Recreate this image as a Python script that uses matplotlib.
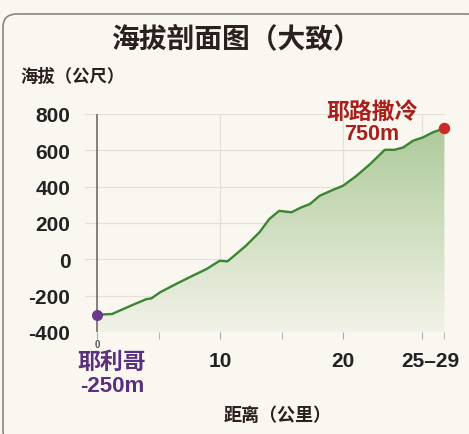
import matplotlib
matplotlib.use("Agg")
import matplotlib.pyplot as plt
import matplotlib.transforms as mtrans
import numpy as np
from matplotlib.patches import FancyBboxPatch

plt.rcParams['font.family'] = ['Noto Sans CJK SC', 'DejaVu Sans']

# Data (distance in km on chart scale, elevation in m)
distance = [0.0, 1.2, 2.1, 3.05, 4.0, 4.4, 5.1, 6.4, 7.5, 8.9, 9.96, 10.6, 11.3, 12.1,
            13.2, 14.0, 14.8, 15.8, 16.6, 17.3, 18.1, 19.2, 20.0, 21.1, 22.2, 23.4,
            24.2, 24.9, 25.7, 26.5, 27.3, 28.25]
elevation = [-305, -301, -274, -246, -219, -215, -182, -136, -99, -53, -8, -11, 29, 75,
             149, 222, 267, 259, 286, 304, 350, 383, 405, 460, 524, 603,
             603, 616, 653, 671, 699, 721]
yticks = [800, 600, 400, 200, 0, -200, -400]
xtick_pos = [10, 20, 26.4]
xtick_labels = ['10', '20', '25–29']
minor_ticks = [5, 15, 28.25]

bg = '#faf7f1'
fig = plt.figure(figsize=(4.69, 4.35), dpi=100, facecolor=bg)
W, H = 469, 435
# rounded border
border = FancyBboxPatch((3/W, -10/H), (W+10)/W, (H-5)/H,
                        boxstyle="round,pad=0,rounding_size=0.03",
                        transform=fig.transFigure, facecolor=bg,
                        edgecolor='#8a8580', linewidth=1.2, zorder=-5)
fig.patches.append(border)

ax = fig.add_axes([85/W, 1-333/H, (445-85)/W, (333-115)/H])
ax.set_zorder(2)
ax.set_facecolor('none')

# grid
for yv in yticks:
    ax.axhline(yv, color='#e4e0d8', lw=0.9, zorder=1)
for xv in [10, 20, 26.4]:
    ax.axvline(xv, color='#e4e0d8', lw=0.9, zorder=1)

# gradient fill
x = np.array(distance)
y = np.array(elevation)
poly = ax.fill_between(x, y, -400, facecolor='none', edgecolor='none', zorder=2)
grad = np.linspace(0, 1, 256).reshape(-1, 1)
top = np.array([0.68, 0.79, 0.60])
bot = np.array([0.95, 0.95, 0.91])
img = top * (1 - grad[..., None]) + bot * grad[..., None]
img = np.repeat(img, 2, axis=1)
im = ax.imshow(img, extent=[0, 28.25, -400, 730], aspect='auto', origin='upper', zorder=2)
path = poly.get_paths()[0]
im.set_clip_path(path, transform=ax.transData)
ax.set_xlim(-1.0, 28.3)
ax.set_ylim(-400, 800)

ax.plot(x, y, color='#3a8532', lw=1.7, zorder=4)

# vertical axis line at x=0
ax.plot([0, 0], [-400, 800], color='#7a7570', lw=1.3, zorder=3)
ax.scatter([distance[0]], [elevation[0]], s=48, color='#6a3a8a', zorder=5)
ax.scatter([distance[-1]], [elevation[-1]], s=52, color='#cc2a22', zorder=5, clip_on=False)

for s in ax.spines.values():
    s.set_visible(False)
ax.set_yticks(yticks)
ax.set_yticklabels([str(v) for v in yticks], fontfamily='Liberation Sans',
                   fontweight='bold', fontsize=15, color='#222222')
ax.tick_params(axis='y', length=0, pad=10.5)
ax.set_xticks([0] + xtick_pos)
ax.set_xticklabels(['0'] + xtick_labels, fontfamily='Liberation Sans',
                   fontweight='bold', fontsize=15, color='#222222')
ax.set_xticks(minor_ticks, minor=True)
ax.tick_params(axis='x', which='both', length=5, color='#aaaaaa', pad=9)
lbls = ax.get_xticklabels()
lbls[0].set_fontsize(7)
lbls[0].set_color('#555555')
ax.xaxis.get_major_ticks()[0].set_pad(0)
last = ax.xaxis.get_major_ticks()[-1].label1
last.set_transform(last.get_transform() + mtrans.ScaledTranslation(9/100, 0, fig.dpi_scale_trans))

# texts
fig.text(236/W, 1-39/H, '海拔剖面图（大致）', ha='center', va='center',
         fontsize=20, fontweight='bold', color='#2a2020')
fig.text(20/W, 1-77/H, '海拔（公尺）', ha='left', va='center',
         fontsize=12.5, fontweight='bold', color='#2a2020')
fig.text(112/W, 1-362/H, '耶利哥', ha='center', va='center',
         fontsize=16.5, fontweight='bold', color='#5a2f7d')
fig.text(112/W, 1-387/H, '-250m', ha='center', va='center', family=['Liberation Sans'],
         fontsize=16, fontweight='bold', color='#5a2f7d')
fig.text(372/W, 1-112/H, '耶路撒冷', ha='center', va='center',
         fontsize=16.5, fontweight='bold', color='#a8201c')
fig.text(372/W, 1-134/H, '750m', ha='center', va='center', family=['Liberation Sans'],
         fontsize=15.5, fontweight='bold', color='#a8201c')
fig.text(278/W, 1-415/H, '距离（公里）', ha='center', va='center',
         fontsize=13, fontweight='bold', color='#2a2020')

fig.savefig('out.png', dpi=100, facecolor=bg)
